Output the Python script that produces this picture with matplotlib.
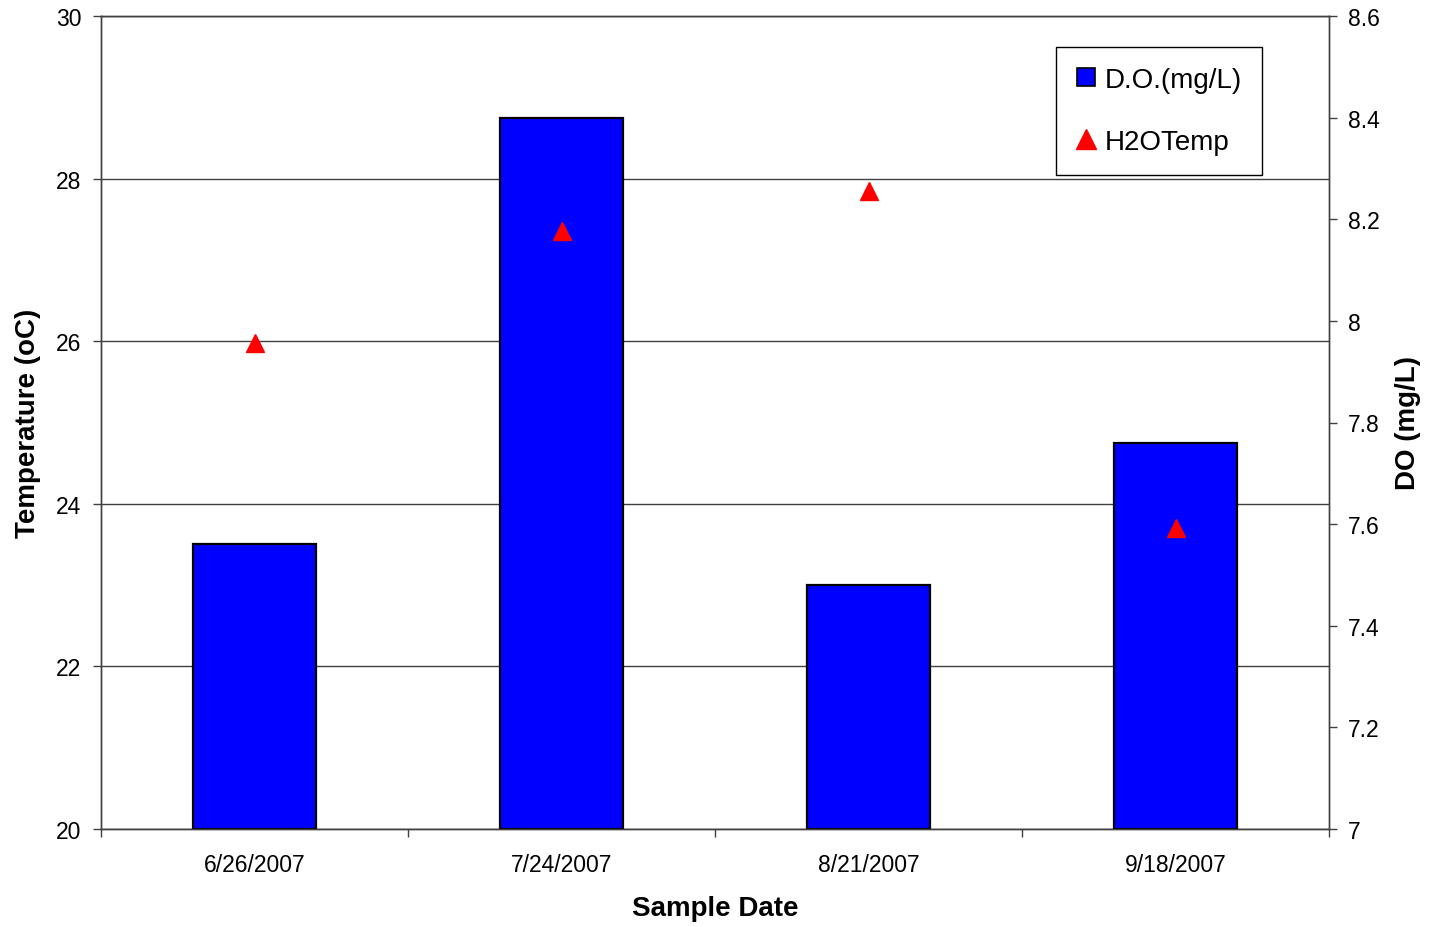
import matplotlib
matplotlib.use("Agg")
import matplotlib.pyplot as plt
from matplotlib.lines import Line2D

plt.rcParams["font.family"] = ["Liberation Sans", "DejaVu Sans"]

# Sampling data
dates = ["6/26/2007", "7/24/2007", "8/21/2007", "9/18/2007"]
do_mgl = [7.56, 8.40, 7.48, 7.76]          # dissolved oxygen (right axis)
h2o_temp = [25.98, 27.36, 27.85, 23.70]     # water temperature (left axis)
temp_ticks = [20, 22, 24, 26, 28, 30]
do_ticks = [7, 7.2, 7.4, 7.6, 7.8, 8, 8.2, 8.4, 8.6]

W, H = 1429, 928
fig = plt.figure(figsize=(W / 100, H / 100), dpi=100)
ax = fig.add_axes([101 / W, (H - 830) / H, 1228 / W, 813 / H])
ax2 = ax.twinx()

axis_col = "#404040"
tick_fs = 16.5
title_fs = 20
x = list(range(len(dates)))

# Temperature axis (left) with horizontal gridlines
ax.set_ylim(temp_ticks[0], temp_ticks[-1])
ax.set_yticks(temp_ticks)
ax.set_yticklabels([str(t) for t in temp_ticks])
ax.yaxis.grid(True, color=axis_col, linewidth=1.0)
ax.set_axisbelow(True)
ax.set_xlim(-0.5, len(dates) - 0.5)

# Category axis: ticks at boundaries, labels at centers
ax.set_xticks([i - 0.5 for i in range(len(dates) + 1)])
ax.set_xticklabels([])
ax.set_xticks(x, minor=True)
ax.set_xticklabels(dates, minor=True)
ax.tick_params(axis="x", which="major", direction="out", length=6, width=1, color=axis_col)
ax.tick_params(axis="x", which="minor", length=0, pad=17.5, labelsize=tick_fs)
ax.tick_params(axis="y", direction="out", length=6, width=1, color=axis_col,
               pad=8, labelsize=tick_fs)

# DO axis (right)
ax2.set_ylim(do_ticks[0], do_ticks[-1])
ax2.set_yticks(do_ticks)
ax2.set_yticklabels([f"{v:g}" for v in do_ticks])
ax2.tick_params(axis="y", direction="out", length=6, width=1, color=axis_col,
                pad=7.5, labelsize=tick_fs)

for a in (ax, ax2):
    for s in a.spines.values():
        s.set_color(axis_col)
        s.set_linewidth(1.0)

# Bars for dissolved oxygen
ax2.bar(x, [v - do_ticks[0] for v in do_mgl], bottom=do_ticks[0], width=0.4,
        color="#0000FF", edgecolor="black", linewidth=1.6, zorder=2)

# Temperature markers drawn in the left-axis coordinate system
ax2.plot(x, h2o_temp, linestyle="none", marker="^", markersize=13,
         color="#FF0000", markeredgecolor="#FF0000", transform=ax.transData,
         zorder=3, clip_on=False)

# Axis titles
ax.set_ylabel("Temperature (oC)", fontsize=title_fs, fontweight="bold")
ax.yaxis.label.set_verticalalignment("center")
ax.yaxis.set_label_coords(-0.0594, 0.5)
ax2.set_ylabel("DO (mg/L)", fontsize=title_fs, fontweight="bold")
ax2.yaxis.label.set_verticalalignment("center")
ax2.yaxis.set_label_coords(1.0643, 0.5)
ax.set_xlabel("Sample Date", fontsize=title_fs, fontweight="bold")
ax.xaxis.label.set_verticalalignment("center")
ax.xaxis.set_label_coords(0.5, -0.0972)

# Legend
handles = [
    Line2D([], [], linestyle="none", marker="s", markersize=13,
           markerfacecolor="#0000FF", markeredgecolor="black", markeredgewidth=1.2),
    Line2D([], [], linestyle="none", marker="^", markersize=14,
           color="#FF0000"),
]
leg = fig.legend(handles, ["D.O.(mg/L)", "H2OTemp"], loc="center",
                 bbox_to_anchor=(1159 / W, 1 - 112 / H), fontsize=title_fs,
                 frameon=True, fancybox=False, framealpha=1, edgecolor="black",
                 handlelength=0.75, handletextpad=0.3, labelspacing=1.31,
                 borderpad=0.72, borderaxespad=0)
leg.get_frame().set_linewidth(1.0)

fig.savefig("out.png", dpi=100)
